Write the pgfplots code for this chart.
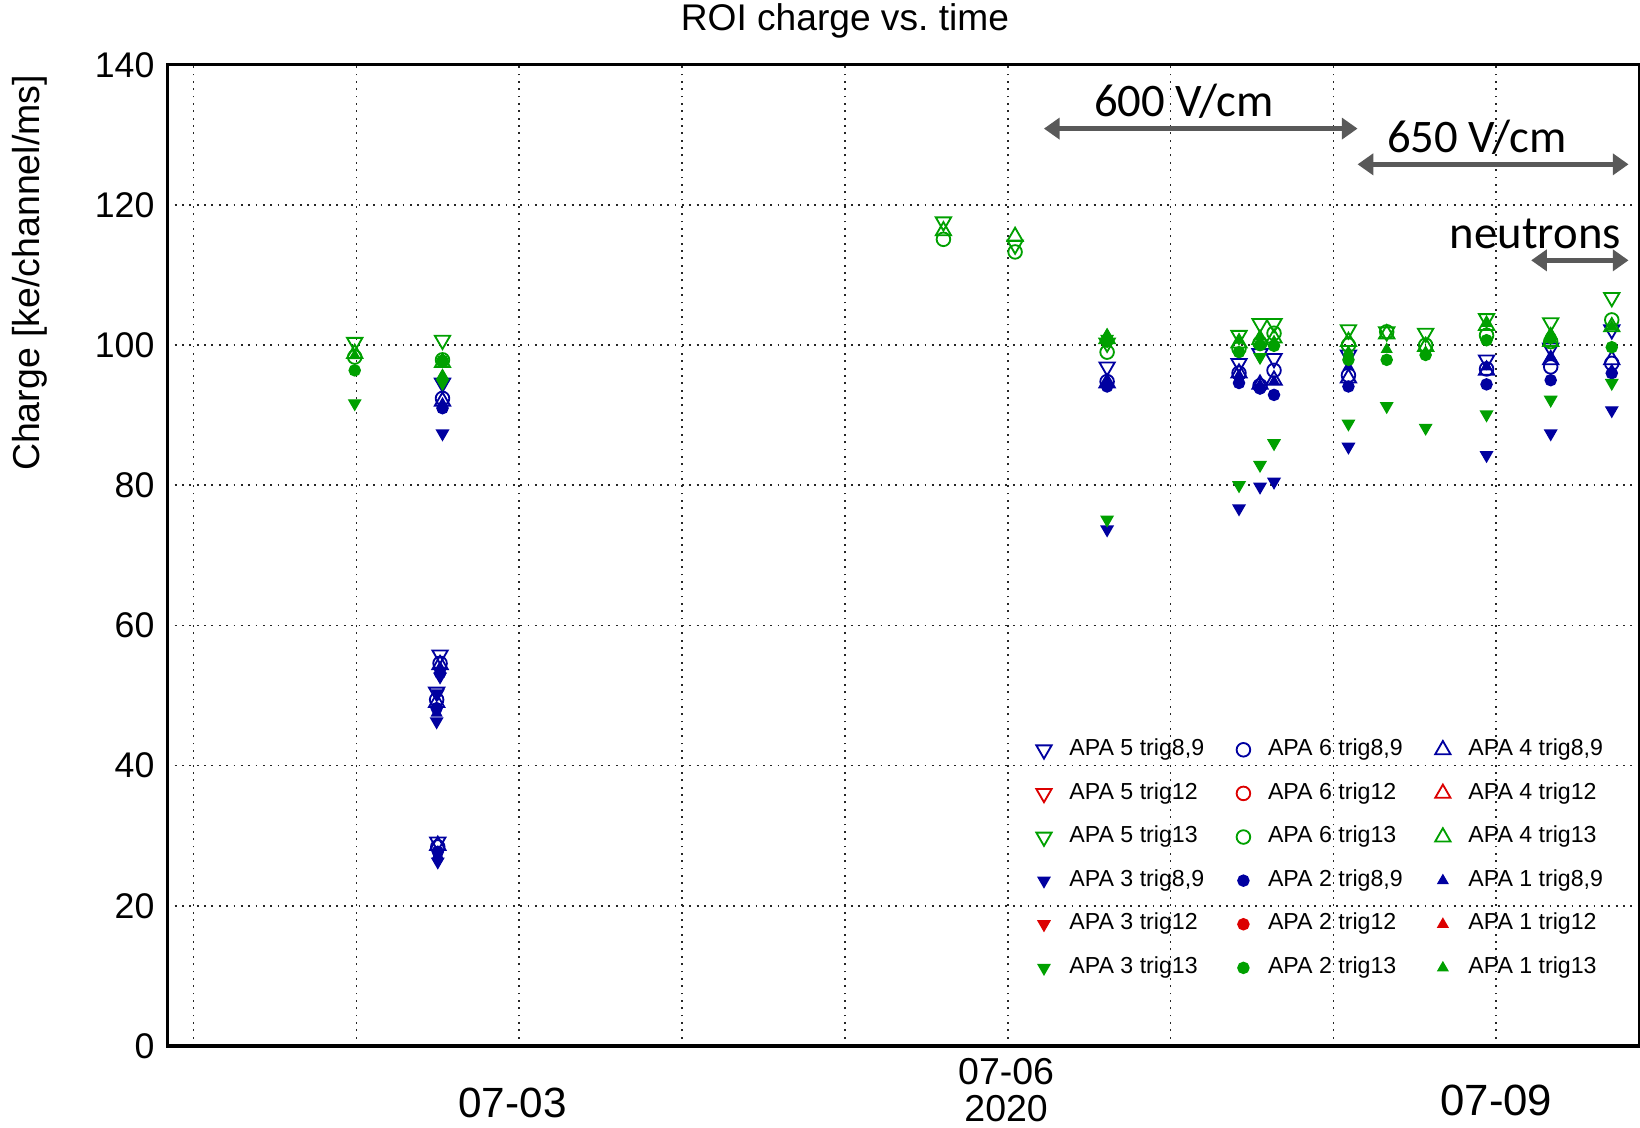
\documentclass[border=0pt]{standalone}
\usepackage{pgfplots}
\pgfplotsset{compat=1.18}
\usepackage{fontspec}
\setmainfont{Liberation Sans}
\newfontfamily\calibri{Carlito}
\usetikzlibrary{arrows.meta}
\definecolor{cblue}{RGB}{0,0,160}
\definecolor{cgreen}{RGB}{0,160,0}
\definecolor{cred}{RGB}{220,0,0}
\definecolor{agray}{RGB}{89,89,89}
\pgfplotsset{
 odn/.style={only marks, mark=triangle, mark size=2.4pt, mark options={rotate=180, line width=0.5pt}},
 ocirc/.style={only marks, mark=o, mark size=1.85pt, mark options={line width=0.5pt}},
 oup/.style={only marks, mark=triangle, mark size=2.4pt, mark options={line width=0.5pt}},
 fdn/.style={only marks, mark=triangle*, mark size=1.8pt, mark options={rotate=180}},
 fcirc/.style={only marks, mark=*, mark size=1.5pt},
 fup/.style={only marks, mark=triangle*, mark size=1.5pt},
}
\begin{document}
\begin{tikzpicture}
\begin{axis}[
 at={(0,0)}, anchor=south west,
 width=14.08cm, height=9.38cm, scale only axis,
 xmin=0.8394, xmax=9.8825, ymin=0, ymax=140,
 xtick={1,...,9}, xticklabels={},
 ytick={0,20,...,140},
 tick pos=left,
 grid=major, grid style={black!85, line width=0.45pt, dash pattern=on 0.5pt off 1.5pt},
 axis line style={black, line width=0.9pt},
 major tick length=0pt,
 yticklabel style={font=\fontsize{9.7}{10}\selectfont},
 /pgf/number format/assume math mode=true,
 clip=false,
 legend columns=3,
 legend cell align=left,
 legend image code/.code={\draw[mark repeat=2,mark phase=2,#1] plot coordinates {(0cm,0cm) (0.18cm,0cm) (0.36cm,0cm)};},
 legend style={at={(axis cs:6.171,45.0)}, anchor=north west, draw=none, fill=none, inner sep=0pt,
   font=\fontsize{6.3}{7.5}\selectfont, row sep=1.8pt,
   /tikz/every odd column/.append style={column sep=0.1cm},
   /tikz/every even column/.append style={column sep=0.24cm}},
]
% APA 5 trig8,9
\addplot[cblue, odn] coordinates {(2.529,94.6) (2.514,55.8) (2.493,50.5) (2.50,29.1) (6.61,96.9) (7.42,97.4) (7.549,98.8) (7.635,98.1) (8.092,98.6) (8.94,97.9) (9.334,99.6) (9.709,102.2)};
\addlegendentry{APA 5 trig8,9}
% APA 6 trig8,9
\addplot[cblue, ocirc] coordinates {(2.529,92.4) (2.514,54.6) (2.493,49.4) (2.50,28.4) (6.61,94.8) (7.42,96.0) (7.549,94.2) (7.635,96.4) (8.092,95.7) (8.94,96.6) (9.334,96.9) (9.709,97.4)};
\addlegendentry{APA 6 trig8,9}
% APA 4 trig8,9
\addplot[cblue, oup] coordinates {(2.529,92.0) (2.514,54.4) (2.493,49.0) (2.50,28.6) (6.61,94.6) (7.42,96.0) (7.549,94.4) (7.635,95.0) (8.092,95.3) (8.94,96.4) (9.334,97.9) (9.709,97.9)};
\addlegendentry{APA 4 trig8,9}
\addlegendimage{cred, odn}
\addlegendentry{APA 5 trig12}
\addlegendimage{cred, ocirc}
\addlegendentry{APA 6 trig12}
\addlegendimage{cred, oup}
\addlegendentry{APA 4 trig12}
% APA 5 trig13
\addplot[cgreen, odn] coordinates {(1.99,100.4) (2.529,100.7) (5.605,117.6) (6.045,114.3) (6.61,100.3) (7.42,101.4) (7.549,103.1) (7.635,103.1) (8.092,102.2) (8.327,101.9) (8.566,101.7) (8.94,103.8) (9.334,103.2) (9.709,106.8)};
\addlegendentry{APA 5 trig13}
% APA 6 trig13
\addplot[cgreen, ocirc] coordinates {(1.99,98.3) (2.529,97.9) (5.605,115.1) (6.045,113.3) (6.61,99.0) (7.42,99.5) (7.549,100.3) (7.635,101.7) (8.092,100.0) (8.327,101.9) (8.566,100.0) (8.94,101.4) (9.334,100.5) (9.709,103.6)};
\addlegendentry{APA 6 trig13}
% APA 4 trig13
\addplot[cgreen, oup] coordinates {(1.99,98.8) (2.529,97.5) (5.605,116.3) (6.045,115.5) (6.61,100.9) (7.42,100.3) (7.549,100.8) (7.635,101.0) (8.092,100.5) (8.327,101.6) (8.566,99.8) (8.94,102.8) (9.334,100.5) (9.709,102.6)};
\addlegendentry{APA 4 trig13}
% APA 3 trig8,9
\addplot[cblue, fdn] coordinates {(2.529,87.4) (2.514,52.7) (2.50,50.3) (2.493,46.3) (2.50,26.3) (6.61,73.7) (7.42,76.7) (7.549,79.8) (7.635,80.5) (8.092,85.5) (8.94,84.3) (9.334,87.4) (9.709,90.7)};
\addlegendentry{APA 3 trig8,9}
% APA 2 trig8,9
\addplot[cblue, fcirc] coordinates {(2.529,91.0) (2.514,53.2) (2.493,48.2) (2.50,27.7) (6.61,94.1) (7.42,94.6) (7.549,93.8) (7.635,92.9) (8.092,94.1) (8.94,94.4) (9.334,95.0) (9.709,96.0)};
\addlegendentry{APA 2 trig8,9}
% APA 1 trig8,9
\addplot[cblue, fup] coordinates {(2.529,91.6) (2.514,54.0) (2.493,47.5) (2.50,27.2) (6.61,94.7) (7.42,95.7) (7.549,94.3) (7.635,94.8) (8.092,96.9) (8.94,96.9) (9.334,98.3) (9.709,96.4)};
\addlegendentry{APA 1 trig8,9}
\addlegendimage{cred, fdn}
\addlegendentry{APA 3 trig12}
\addlegendimage{cred, fcirc}
\addlegendentry{APA 2 trig12}
\addlegendimage{cred, fup}
\addlegendentry{APA 1 trig12}
% APA 3 trig13
\addplot[cgreen, fdn] coordinates {(1.99,91.7) (2.529,94.6) (6.61,100.9) (6.61,75.1) (7.42,80.0) (7.549,98.3) (7.549,82.9) (7.635,86.0) (8.092,88.8) (8.327,91.3) (8.566,88.2) (8.94,90.1) (9.334,92.2) (9.709,94.6)};
\addlegendentry{APA 3 trig13}
% APA 2 trig13
\addplot[cgreen, fcirc] coordinates {(1.99,96.4) (2.529,97.8) (6.61,100.5) (7.42,99.0) (7.549,100.0) (7.635,99.9) (8.092,97.9) (8.327,97.9) (8.566,98.6) (8.94,100.7) (9.334,101.0) (9.709,99.7)};
\addlegendentry{APA 2 trig13}
% APA 1 trig13
\addplot[cgreen, fup] coordinates {(1.99,98.5) (2.529,95.7) (6.61,101.5) (7.42,100.7) (7.549,101.2) (7.635,100.5) (8.092,99.0) (8.327,99.4) (8.566,99.0) (8.94,103.1) (9.334,101.7) (9.709,102.6)};
\addlegendentry{APA 1 trig13}

% titles and labels
\node[font=\fontsize{10.1}{12}\selectfont] at (axis cs:5.0,146.3) {ROI charge vs.\ time};
\node[rotate=90, font=\fontsize{10.2}{12}\selectfont] at (axis cs:-0.008,110.3) {Charge [ke/channel/ms]};
\node[font=\fontsize{11.5}{12}\selectfont] at (axis cs:2.959,-8.2) {07-03};
\node[font=\fontsize{10.2}{12}\selectfont] at (axis cs:5.99,-3.7) {07-06};
\node[font=\fontsize{10.2}{12}\selectfont] at (axis cs:5.99,-9.0) {2020};
\node[font=\fontsize{11.9}{12}\selectfont] at (axis cs:9.0,-7.8) {07-09};

% annotations
\draw[agray, line width=1.4pt, {Triangle[length=0.15cm,width=0.2cm]}-{Triangle[length=0.15cm,width=0.2cm]}] (axis cs:6.222,130.9) -- (axis cs:8.148,130.9);
\draw[agray, line width=1.4pt, {Triangle[length=0.15cm,width=0.2cm]}-{Triangle[length=0.15cm,width=0.2cm]}] (axis cs:8.148,125.8) -- (axis cs:9.812,125.8);
\draw[agray, line width=1.4pt, {Triangle[length=0.15cm,width=0.2cm]}-{Triangle[length=0.15cm,width=0.2cm]}] (axis cs:9.214,112.1) -- (axis cs:9.812,112.1);
\node[font=\calibri\fontsize{12.7}{14}\selectfont] at (axis cs:7.082,134.8) {600 V/cm};
\node[font=\calibri\fontsize{12.7}{14}\selectfont] at (axis cs:8.881,129.7) {650 V/cm};
\node[font=\calibri\fontsize{12.7}{14}\selectfont] at (axis cs:9.240,115.8) {neutrons};
\end{axis}
\pgfresetboundingbox
\path[use as bounding box] (-1.60,-0.78) rectangle (14.08,10.00);
\end{tikzpicture}
\end{document}
